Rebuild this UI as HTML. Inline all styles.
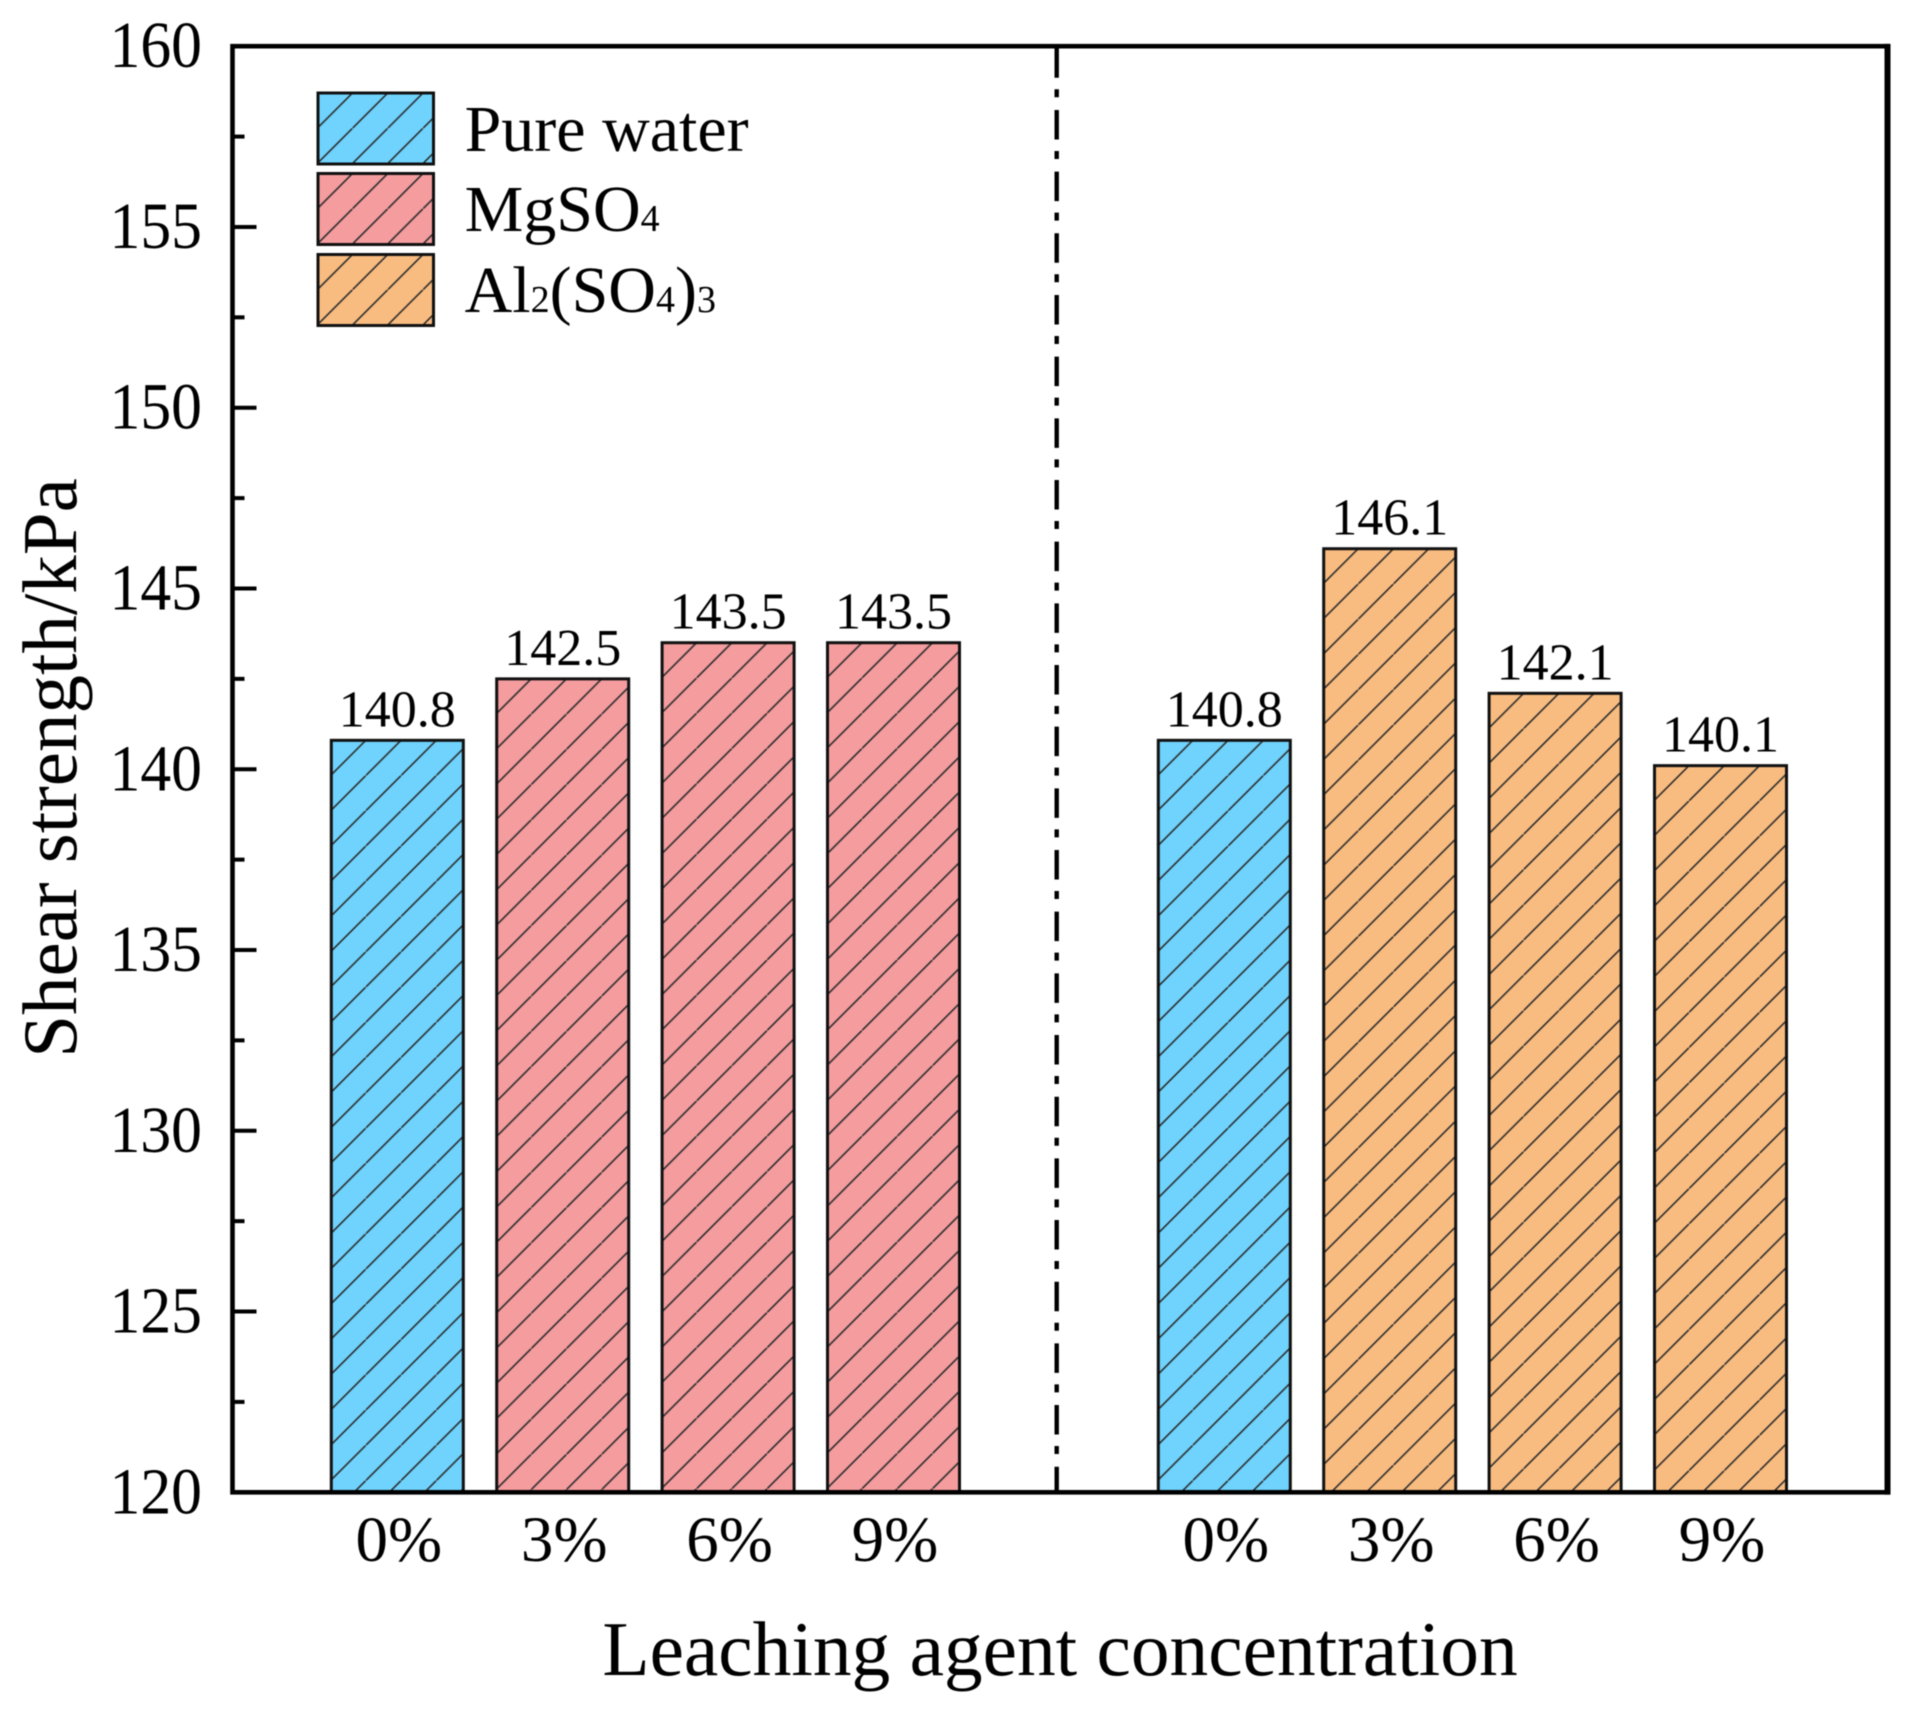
<!DOCTYPE html>
<html lang="en">
<head>
<meta charset="utf-8">
<title>Shear strength vs leaching agent concentration</title>
<style>
html,body{margin:0;padding:0;background:#fff;}
svg{display:block;filter:blur(0.5px);}
text{font-family:"Liberation Serif",serif;fill:#000;}
</style>
</head>
<body>
<svg id="chart" xmlns="http://www.w3.org/2000/svg" width="1911" height="1710" viewBox="0 0 1911 1710">
  <rect width="1911" height="1710" fill="#fff"/>
  <defs id="defs"></defs>
  <g id="bars"></g>
  <line id="divider" stroke="#000" stroke-width="4.4" stroke-dasharray="29.5 11.5 8 12.67"/>
  <g id="axes"></g>
  <g id="labels"></g>
  <g id="legend">
    <text x="464.6" y="151" font-size="66">Pure water</text>
    <text x="464.6" y="231" font-size="66">MgSO<tspan font-size="38">4</tspan></text>
    <text x="464.6" y="312" font-size="66">Al<tspan font-size="38">2</tspan>(SO<tspan font-size="38">4</tspan>)<tspan font-size="38">3</tspan></text>
  </g>
  <text x="1060" y="1675" font-size="77.4" text-anchor="middle">Leaching agent concentration</text>
  <text transform="translate(76,768) rotate(-90)" font-size="77" text-anchor="middle">Shear strength/kPa</text>
</svg>
<script>
const categories = ['0%', '3%', '6%', '9%', '0%', '3%', '6%', '9%'];
const slots = [0, 1, 2, 3, 5, 6, 7, 8];
const shearValues = [140.8, 142.5, 143.5, 143.5, 140.8, 146.1, 142.1, 140.1];
const seriesKeys = ['pure', 'mg', 'mg', 'mg', 'pure', 'al', 'al', 'al'];
const yTickLabels = [120, 125, 130, 135, 140, 145, 150, 155, 160];
const yMinorTicks = [122.5, 127.5, 132.5, 137.5, 142.5, 147.5, 152.5, 157.5];
const dividerSlot = 3.985;

const SVGNS = 'http://www.w3.org/2000/svg';
const fills = {pure: '#6FD3FD', mg: '#F49C9E', al: '#F9BC80'};
const plot = {left: 232.5, right: 1887.5, top: 46.2, bottom: 1492.3};
const yMin = 120, yMax = 160;
const slotMin = -1, slotMax = 9;
const barWidth = 132;
const hatchPeriod = 35.25, hatchPhase = 34.5;

function yScale(v) { return plot.bottom - (v - yMin) / (yMax - yMin) * (plot.bottom - plot.top); }
function xScale(s) { return 231.9 + (s - slotMin) * 165.4; }
function mk(tag, attrs, parent) {
  const el = document.createElementNS(SVGNS, tag);
  for (const k in attrs) el.setAttribute(k, attrs[k]);
  parent.appendChild(el);
  return el;
}

const defs = document.getElementById('defs');
function makeHatch(id, x, y) {
  const p = mk('pattern', {id: id, patternUnits: 'userSpaceOnUse', x: x + hatchPhase - hatchPeriod, y: y, width: hatchPeriod, height: hatchPeriod}, defs);
  mk('line', {x1: -1, y1: hatchPeriod + 1, x2: hatchPeriod + 1, y2: -1, stroke: '#2b2b2b', 'stroke-width': 1.6}, p);
}
function drawHatchedRect(parent, x, y, w, h, fill, hatchId) {
  makeHatch(hatchId, x, y);
  mk('rect', {x: x, y: y, width: w, height: h, fill: fill}, parent).setAttribute('data-part', 'fill');
  mk('rect', {x: x, y: y, width: w, height: h, fill: 'url(#' + hatchId + ')', stroke: '#111', 'stroke-width': 3}, parent).setAttribute('data-part', 'hatch');
}

const barsG = document.getElementById('bars');
const labelsG = document.getElementById('labels');
const axesG = document.getElementById('axes');

shearValues.forEach(function (v, i) {
  const cx = xScale(slots[i]);
  const top = yScale(v);
  const g = mk('g', {}, barsG);
  
  
  drawHatchedRect(g, cx - barWidth / 2, top, barWidth, plot.bottom - top, fills[seriesKeys[i]], 'hatch-bar-' + i);
  const t = mk('text', {x: cx, y: top - 14, 'font-size': 52, 'text-anchor': 'middle'}, labelsG);
  
  
  t.textContent = v.toFixed(1);
  const c = mk('text', {x: cx + 1.5, y: 1561, 'font-size': 65, 'text-anchor': 'middle'}, axesG);
  
  
  c.textContent = categories[i];
});

const divider = document.getElementById('divider');
divider.setAttribute('x1', 1056.7);
divider.setAttribute('x2', 1056.7);
divider.setAttribute('y1', 48.3);
divider.setAttribute('y2', plot.bottom);

yTickLabels.forEach(function (v) {
  const y = yScale(v);
  const tick = mk('line', {x1: plot.left, x2: plot.left + 24, y1: y, y2: y, stroke: '#000', 'stroke-width': 4}, axesG);
  
  
  const t = mk('text', {transform: 'translate(202,' + (y + 21) + ') scale(0.934,1)', 'font-size': 66, 'text-anchor': 'end'}, axesG);
  
  
  t.textContent = v;
});
yMinorTicks.forEach(function (v) {
  const y = yScale(v);
  const tick = mk('line', {x1: plot.left, x2: plot.left + 12, y1: y, y2: y, stroke: '#000', 'stroke-width': 4}, axesG);
  
  
});

const frame = mk('rect', {x: plot.left, y: plot.top, width: plot.right - plot.left, height: plot.bottom - plot.top, fill: 'none', stroke: '#000', 'stroke-width': 4.6}, axesG);


const rightEdge = mk('line', {x1: plot.right, x2: plot.right, y1: plot.top - 2.3, y2: plot.bottom + 2.3, stroke: '#000', 'stroke-width': 6}, axesG);



const legendG = document.getElementById('legend');
const legendKeys = ['pure', 'mg', 'al'];
const legendTops = [93, 173.5, 254.5];
legendKeys.forEach(function (k, i) {
  const g = mk('g', {}, legendG);
  
  
  drawHatchedRect(g, 318, legendTops[i], 115.5, 71, fills[k], 'hatch-legend-' + k);
});
</script>
</body>
</html>
